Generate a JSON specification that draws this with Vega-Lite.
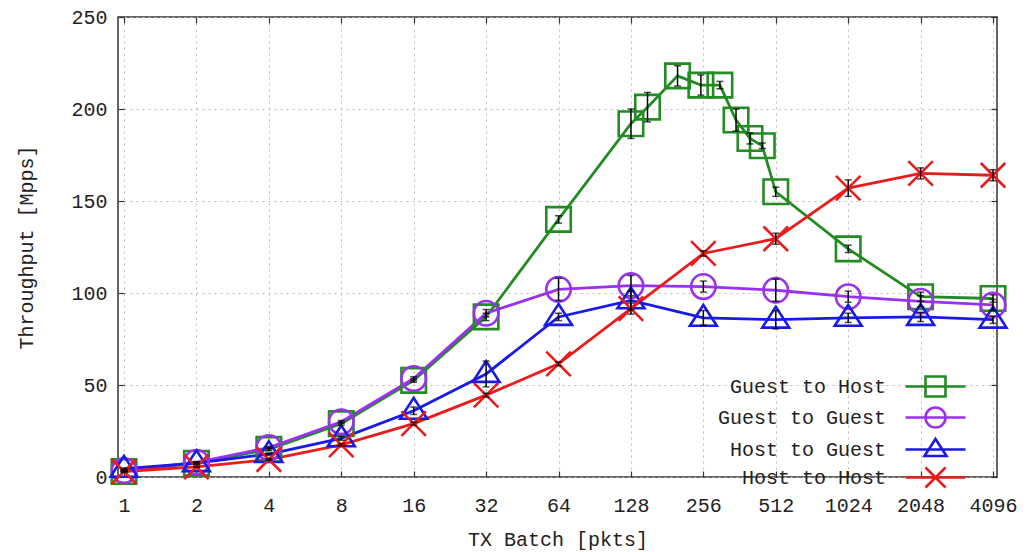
{
  "$schema": "https://vega.github.io/schema/vega-lite/v6.json",
  "width": 879,
  "height": 460,
  "autosize": "none",
  "padding": {"left": 118, "top": 17, "right": 34, "bottom": 75},
  "background": "white",
  "config": {
    "view": {"stroke": "#333", "strokeWidth": 1.5},
    "font": "Liberation Mono",
    "axis": {
      "labelFont": "Liberation Mono", "titleFont": "Liberation Mono",
      "labelFontSize": 20, "titleFontSize": 20, "titleFontWeight": "normal",
      "labelColor": "#222", "titleColor": "#222",
      "domain": false, "tickColor": "#333", "tickWidth": 1.2,
      "gridColor": "#bbbbbb", "gridDash": [2, 4], "gridWidth": 1
    }
  },
  "data": {"values": [
    {"s": "Guest to Host", "b": 1, "t": 3, "lo": 2.5, "hi": 3.5},
    {"s": "Guest to Host", "b": 2, "t": 7.5, "lo": 7, "hi": 8},
    {"s": "Guest to Host", "b": 4, "t": 15, "lo": 14.3, "hi": 15.7},
    {"s": "Guest to Host", "b": 8, "t": 29, "lo": 28.2, "hi": 29.8},
    {"s": "Guest to Host", "b": 16, "t": 52.5, "lo": 51.5, "hi": 53.5},
    {"s": "Guest to Host", "b": 32, "t": 87, "lo": 85, "hi": 89},
    {"s": "Guest to Host", "b": 64, "t": 140, "lo": 138, "hi": 142},
    {"s": "Guest to Host", "b": 128, "t": 192, "lo": 184, "hi": 200},
    {"s": "Guest to Host", "b": 150, "t": 201, "lo": 193, "hi": 209},
    {"s": "Guest to Host", "b": 200, "t": 218, "lo": 212.5, "hi": 223.5},
    {"s": "Guest to Host", "b": 250, "t": 213, "lo": 207.5, "hi": 218.5},
    {"s": "Guest to Host", "b": 300, "t": 213, "lo": 211, "hi": 215},
    {"s": "Guest to Host", "b": 350, "t": 194, "lo": 188, "hi": 200},
    {"s": "Guest to Host", "b": 400, "t": 184, "lo": 181, "hi": 187},
    {"s": "Guest to Host", "b": 450, "t": 180, "lo": 178.5, "hi": 181.5},
    {"s": "Guest to Host", "b": 512, "t": 155, "lo": 152.5, "hi": 157.5},
    {"s": "Guest to Host", "b": 1024, "t": 124, "lo": 122, "hi": 126},
    {"s": "Guest to Host", "b": 2048, "t": 98, "lo": 95.5, "hi": 100.5},
    {"s": "Guest to Host", "b": 4096, "t": 97, "lo": 95, "hi": 99},
    {"s": "Guest to Guest", "b": 1, "t": 3.5, "lo": 3.2, "hi": 3.8},
    {"s": "Guest to Guest", "b": 2, "t": 8, "lo": 7.6, "hi": 8.4},
    {"s": "Guest to Guest", "b": 4, "t": 16, "lo": 15.5, "hi": 16.5},
    {"s": "Guest to Guest", "b": 8, "t": 30, "lo": 29.3, "hi": 30.7},
    {"s": "Guest to Guest", "b": 16, "t": 53.5, "lo": 52.5, "hi": 54.5},
    {"s": "Guest to Guest", "b": 32, "t": 89, "lo": 87, "hi": 91},
    {"s": "Guest to Guest", "b": 64, "t": 102, "lo": 96, "hi": 108},
    {"s": "Guest to Guest", "b": 128, "t": 104, "lo": 98.5, "hi": 109.5},
    {"s": "Guest to Guest", "b": 256, "t": 103.5, "lo": 100.5, "hi": 106.5},
    {"s": "Guest to Guest", "b": 512, "t": 101.5, "lo": 95.5, "hi": 107.5},
    {"s": "Guest to Guest", "b": 1024, "t": 98, "lo": 95, "hi": 101},
    {"s": "Guest to Guest", "b": 2048, "t": 95.5, "lo": 92.5, "hi": 98.5},
    {"s": "Guest to Guest", "b": 4096, "t": 93.5, "lo": 90.5, "hi": 96.5},
    {"s": "Host to Guest", "b": 1, "t": 4.5, "lo": 4.2, "hi": 4.8},
    {"s": "Host to Guest", "b": 2, "t": 7.5, "lo": 7.1, "hi": 7.9},
    {"s": "Host to Guest", "b": 4, "t": 12.5, "lo": 12, "hi": 13},
    {"s": "Host to Guest", "b": 8, "t": 21, "lo": 20, "hi": 22},
    {"s": "Host to Guest", "b": 16, "t": 36, "lo": 34, "hi": 38},
    {"s": "Host to Guest", "b": 32, "t": 56, "lo": 49, "hi": 63},
    {"s": "Host to Guest", "b": 64, "t": 87, "lo": 85, "hi": 89},
    {"s": "Host to Guest", "b": 128, "t": 96, "lo": 91, "hi": 101},
    {"s": "Host to Guest", "b": 256, "t": 86.5, "lo": 82.5, "hi": 90.5},
    {"s": "Host to Guest", "b": 512, "t": 85.5, "lo": 80.5, "hi": 90.5},
    {"s": "Host to Guest", "b": 1024, "t": 86.5, "lo": 84, "hi": 89},
    {"s": "Host to Guest", "b": 2048, "t": 87, "lo": 84.5, "hi": 89.5},
    {"s": "Host to Guest", "b": 4096, "t": 85.5, "lo": 83.5, "hi": 87.5},
    {"s": "Host to Host", "b": 1, "t": 3, "lo": 2.7, "hi": 3.3},
    {"s": "Host to Host", "b": 2, "t": 5.5, "lo": 5.2, "hi": 5.8},
    {"s": "Host to Host", "b": 4, "t": 9.5, "lo": 9.1, "hi": 9.9},
    {"s": "Host to Host", "b": 8, "t": 17.5, "lo": 16.9, "hi": 18.1},
    {"s": "Host to Host", "b": 16, "t": 29, "lo": 28.2, "hi": 29.8},
    {"s": "Host to Host", "b": 32, "t": 44.5, "lo": 43.5, "hi": 45.5},
    {"s": "Host to Host", "b": 64, "t": 61.5, "lo": 60.5, "hi": 62.5},
    {"s": "Host to Host", "b": 128, "t": 91.5, "lo": 88.5, "hi": 94.5},
    {"s": "Host to Host", "b": 256, "t": 121.5, "lo": 120, "hi": 123},
    {"s": "Host to Host", "b": 512, "t": 129.5, "lo": 126.5, "hi": 132.5},
    {"s": "Host to Host", "b": 1024, "t": 157, "lo": 152.5, "hi": 161.5},
    {"s": "Host to Host", "b": 2048, "t": 165, "lo": 162, "hi": 168},
    {"s": "Host to Host", "b": 4096, "t": 164, "lo": 161, "hi": 167}
  ]},
  "resolve": {"axis": {"x": "independent", "y": "independent"}},
  "layer": [
    {
      "mark": {"type": "line", "strokeWidth": 2.8},
      "encoding": {
        "x": {"field": "b", "type": "quantitative",
          "scale": {"type": "log", "base": 2, "domain": [0.944, 4255], "nice": false},
          "axis": {"orient": "bottom", "values": [1,2,4,8,16,32,64,128,256,512,1024,2048,4096], "format": "d",
            "title": "TX Batch [pkts]", "grid": true, "tickSize": -6, "labelPadding": 24, "titlePadding": 14, "labelFlush": false}},
        "y": {"field": "t", "type": "quantitative",
          "scale": {"domain": [0, 250], "nice": false, "zero": false},
          "axis": {"orient": "left", "values": [0,50,100,150,200,250], "title": "Throughput [Mpps]", "grid": true,
            "tickSize": -6, "labelPadding": 17, "titlePadding": 34}},
        "color": {"field": "s", "type": "nominal",
          "scale": {"domain": ["Guest to Host", "Guest to Guest", "Host to Guest", "Host to Host"],
            "range": ["#228b22", "#9b30f0", "#1a1ae6", "#e81c1c"]}},
        "order": {"field": "b", "type": "quantitative"}
      }
    },
    {
      "mark": {"type": "point", "filled": false, "strokeWidth": 2.6, "size": 600, "opacity": 1},
      "encoding": {
        "x": {"field": "b", "type": "quantitative", "axis": null},
        "y": {"field": "t", "type": "quantitative", "axis": null},
        "color": {"field": "s", "type": "nominal",
          "legend": {
            "orient": "none", "legendX": 806, "legendY": 358, "title": null, "padding": 0,
            "labelFont": "Liberation Mono", "labelFontSize": 20, "labelColor": "#222", "labelLimit": 400,
            "labelAlign": "right", "labelOffset": -61, "symbolSize": 400, "symbolStrokeWidth": 2.6,
            "symbolFillColor": "transparent",
            "rowPadding": 0,
            "symbolType": {"expr": "datum.value === 'Guest to Host' ? 'M-3,0L3,0M-1,-1L1,-1L1,1L-1,1Z' : datum.value === 'Guest to Guest' ? 'M-3,0L3,0M-1,0A1,1,0,1,1,1,0A1,1,0,1,1,-1,0Z' : datum.value === 'Host to Guest' ? 'M-3,0L3,0M0,-1.05L1.1,0.65L-1.1,0.65Z' : 'M-3,0L3,0M-1,-1L1,1M1,-1L-1,1'"}
          }},
        "shape": {
          "condition": [
            {"test": "datum.s === 'Guest to Host'", "value": "M-1,-1L1,-1L1,1L-1,1Z"},
            {"test": "datum.s === 'Guest to Guest'", "value": "M-1,0A1,1,0,1,1,1,0A1,1,0,1,1,-1,0Z"},
            {"test": "datum.s === 'Host to Guest'", "value": "M0,-1.05L1.1,0.65L-1.1,0.65Z"}
          ],
          "value": "M-1,-1L1,1M1,-1L-1,1"
        }
      }
    },
    {
      "mark": {"type": "rule", "color": "black", "strokeWidth": 1.5},
      "encoding": {
        "x": {"field": "b", "type": "quantitative",
          "axis": {"orient": "top", "values": [1,2,4,8,16,32,64,128,256,512,1024,2048,4096], "labels": false, "title": null, "grid": false, "tickSize": -6}},
        "y": {"field": "lo", "type": "quantitative",
          "axis": {"orient": "right", "values": [0,50,100,150,200,250], "labels": false, "title": null, "grid": false, "tickSize": -6}},
        "y2": {"field": "hi"}
      }
    },
    {
      "mark": {"type": "tick", "orient": "horizontal", "color": "black", "size": 7, "thickness": 1.5},
      "encoding": {
        "x": {"field": "b", "type": "quantitative", "axis": null},
        "y": {"field": "lo", "type": "quantitative", "axis": null}
      }
    },
    {
      "mark": {"type": "tick", "orient": "horizontal", "color": "black", "size": 7, "thickness": 1.5},
      "encoding": {
        "x": {"field": "b", "type": "quantitative", "axis": null},
        "y": {"field": "hi", "type": "quantitative", "axis": null}
      }
    }
  ]
}
